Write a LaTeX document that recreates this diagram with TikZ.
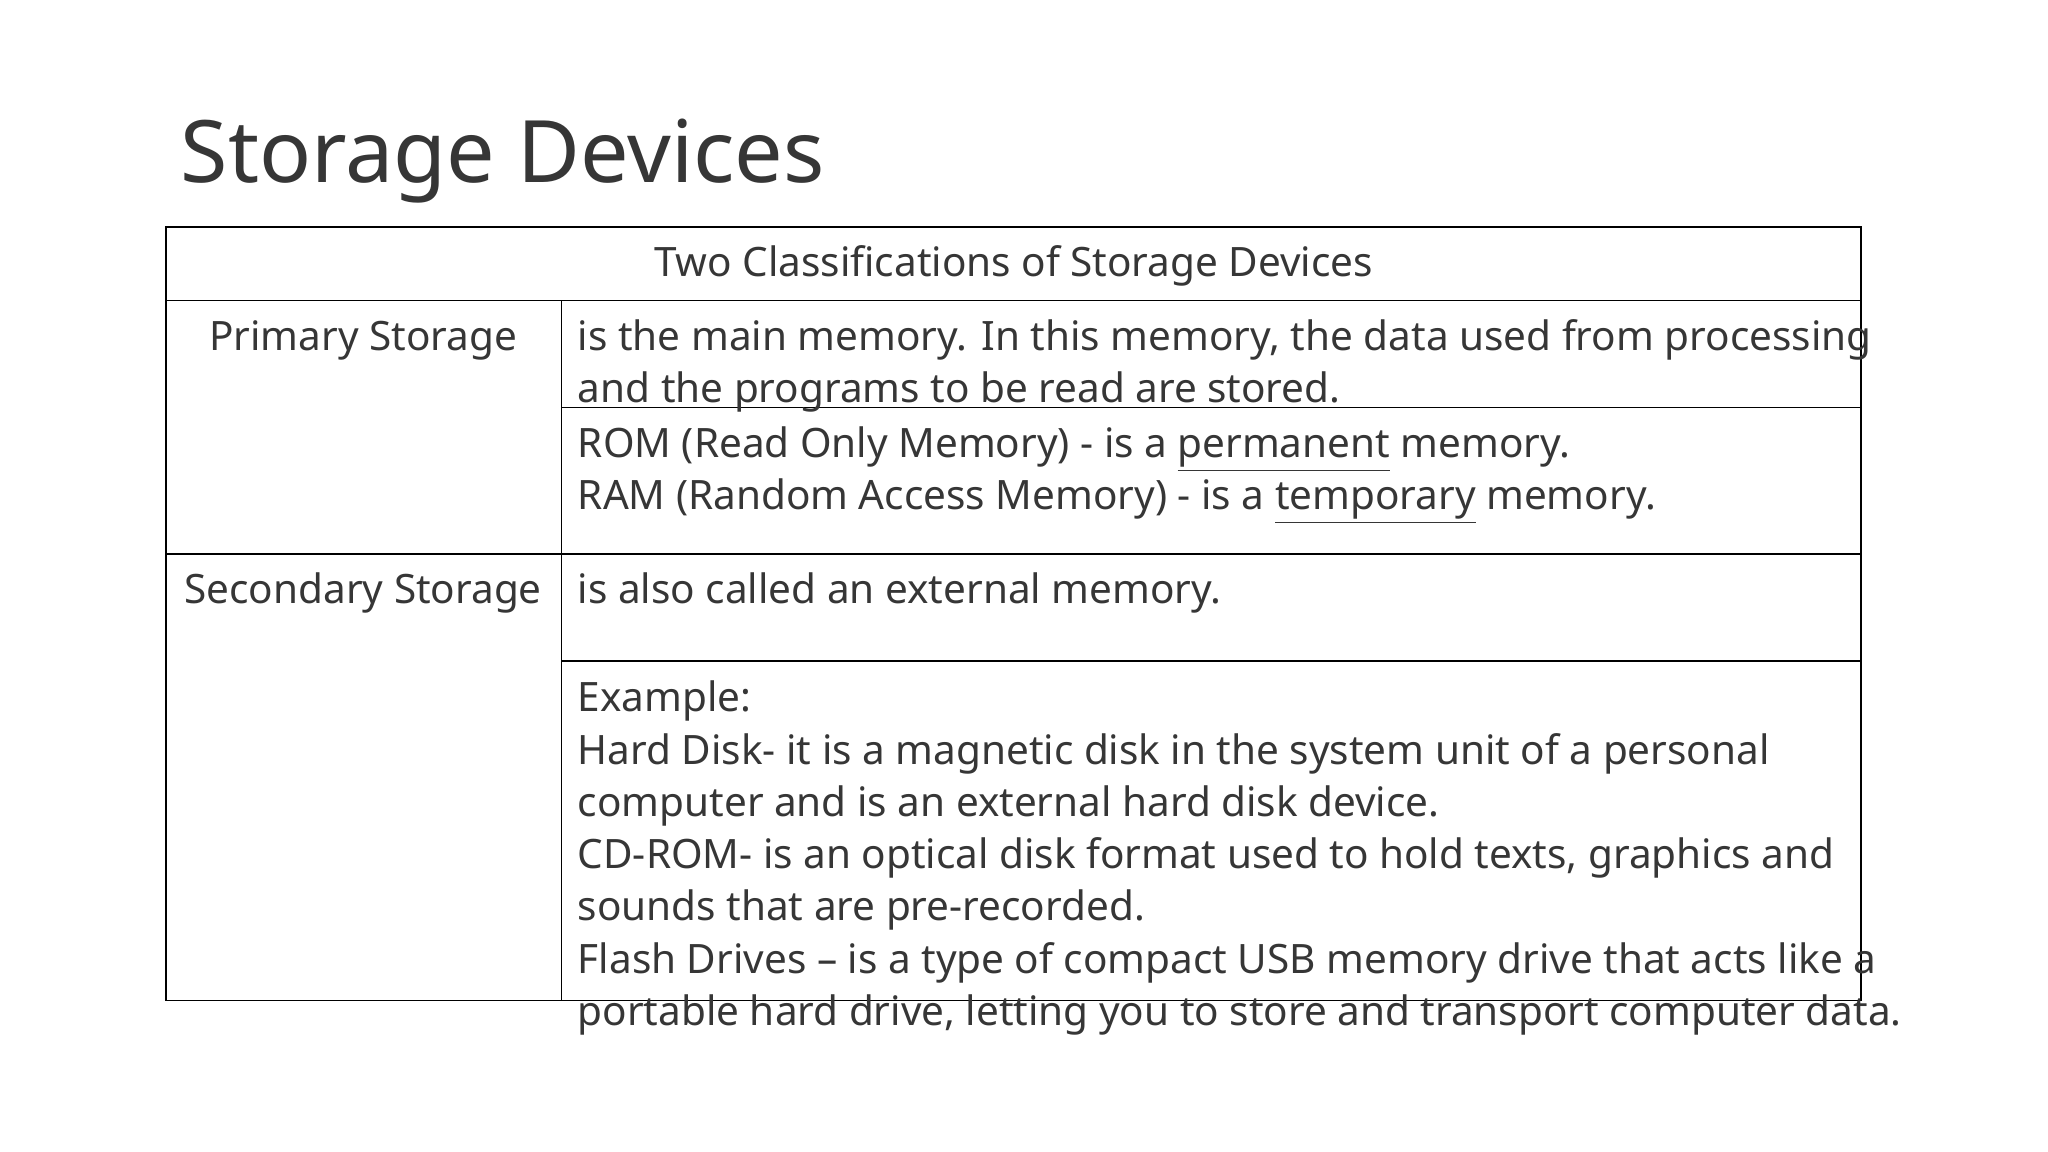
\documentclass[tikz,border=0pt]{standalone}
\usepackage{fontspec}
\setmainfont{Noto Sans}
\definecolor{ink}{HTML}{363636}
\begin{document}
\begin{tikzpicture}[x=0.5pt,y=-0.5pt,
  t/.style={anchor=base west,inner sep=0,text=ink,font=\fontsize{15.5}{20}\selectfont},
  tc/.style={t,anchor=base},
  grid/.style={draw=black,line width=0.6pt}]
\useasboundingbox (0,0) rectangle (1568,882);
\node[anchor=base west,inner sep=0,text=ink,font=\fontsize{33}{40}\selectfont] (title) at (138,140) {Storage Devices};
\draw[grid] (127,174) rectangle (1425,766);
\draw[grid] (127,230) -- (1425,230);
\draw[grid] (127,424) -- (1425,424);
\draw[grid] (430,230) -- (430,766);
\draw[grid] (430,312) -- (1425,312);
\draw[grid] (430,506) -- (1425,506);
\node[tc] (h) at (776,212) {Two Classifications of Storage Devices};
\node[tc] (p) at (278,268) {Primary Storage};
\node[tc] (s) at (278,462) {Secondary Storage};
\node[t] (a1) at (442,268) {is the main memory. In this memory, the data used from processing};
\node[t] (a2) at (442,308) {and the programs to be read are stored.};
\node[t] (b1) at (442,350) {ROM (Read Only Memory) - is a \underline{permanent} memory.};
\node[t] (b2) at (442,390) {RAM (Random Access Memory) - is a \underline{temporary} memory.};
\node[t] (c1) at (442,462) {is also called an external memory.};
\node[t] (d1) at (442,545) {Example:};
\node[t] (d2) at (442,585) {Hard Disk- it is a magnetic disk in the system unit of a personal};
\node[t] (d3) at (442,625) {computer and is an external hard disk device.};
\node[t] (d4) at (442,665) {CD-ROM- is an optical disk format used to hold texts, graphics and};
\node[t] (d5) at (442,705) {sounds that are pre-recorded.};
\node[t] (d6) at (442,745) {Flash Drives – is a type of compact USB memory drive that acts like a};
\node[t] (d7) at (442,785) {portable hard drive, letting you to store and transport computer data.};
\end{tikzpicture}
\end{document}
